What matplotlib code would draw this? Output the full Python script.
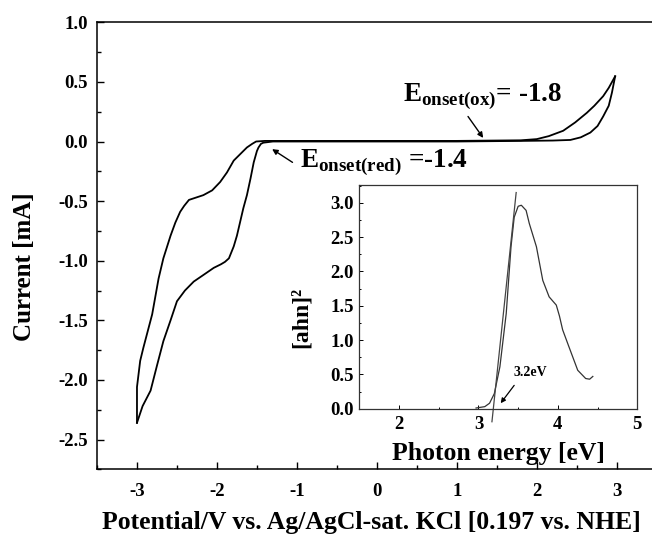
import matplotlib
matplotlib.use("Agg")
import matplotlib.pyplot as plt
from matplotlib.ticker import MultipleLocator, FormatStrFormatter

plt.rcParams['font.family'] = ['Liberation Serif', 'DejaVu Serif']
plt.rcParams['font.weight'] = 'bold'
plt.rcParams['axes.unicode_minus'] = False
plt.rcParams['mathtext.fontset'] = 'custom'
plt.rcParams['mathtext.bf'] = 'Liberation Serif:bold'
plt.rcParams['mathtext.rm'] = 'Liberation Serif:bold'

# ---- CV data (potential in V, current in mA) ----
cv_cath_x = [-3.0, -2.93, -2.83, -2.75, -2.67, -2.58, -2.5, -2.4, -2.29, -2.17, -2.04,
             -1.95, -1.90, -1.85, -1.79, -1.75, -1.71, -1.67, -1.625, -1.58, -1.54,
             -1.50, -1.48, -1.45, -1.42, -1.3, -1.0, 0.0, 1.0, 1.8, 2.2, 2.42, 2.55,
             2.67, 2.76, 2.83, 2.90, 2.94, 2.98]
cv_cath_y = [-2.36, -2.22, -2.09, -1.88, -1.675, -1.50, -1.34, -1.25, -1.175, -1.12, -1.06,
             -1.03, -1.01, -0.98, -0.88, -0.79, -0.675, -0.56, -0.45, -0.31, -0.175,
             -0.08, -0.05, -0.02, -0.01, 0.0, 0.0, 0.0, 0.0, 0.005, 0.008, 0.013, 0.035,
             0.075, 0.13, 0.21, 0.30, 0.41, 0.547]
cv_anod_x = [2.98, 2.90, 2.83, 2.72, 2.625, 2.48, 2.33, 2.15, 2.0, 1.8, 1.0, 0.0, -1.0,
             -1.4, -1.51, -1.56, -1.625, -1.70, -1.79, -1.875, -1.96, -2.06, -2.17, -2.26,
             -2.35, -2.41, -2.46, -2.52, -2.58, -2.67, -2.73, -2.81, -2.92, -2.96, -3.0, -3.0]
cv_anod_y = [0.547, 0.45, 0.38, 0.30, 0.24, 0.16, 0.09, 0.045, 0.02, 0.01, 0.005, 0.005, 0.005,
             0.005, 0.0, -0.02, -0.05, -0.10, -0.16, -0.26, -0.34, -0.41, -0.45, -0.47,
             -0.49, -0.54, -0.59, -0.68, -0.79, -0.98, -1.15, -1.45, -1.73, -1.84, -2.06, -2.36]

x_ticks = [-3, -2, -1, 0, 1, 2, 3]
y_ticks = [-2.5, -2.0, -1.5, -1.0, -0.5, 0.0, 0.5, 1.0]

# ---- Inset (Tauc plot) data ----
energy = [2.97, 3.08, 3.14, 3.20, 3.27, 3.35, 3.41, 3.45, 3.50, 3.54, 3.60, 3.64, 3.73,
          3.81, 3.89, 3.95, 3.98, 4.02, 4.06, 4.14, 4.25, 4.35, 4.40, 4.44]
ahn2 = [0.01, 0.03, 0.08, 0.22, 0.61, 1.39, 2.36, 2.79, 2.95, 2.965, 2.89, 2.70, 2.36,
        1.87, 1.63, 1.55, 1.51, 1.35, 1.15, 0.90, 0.56, 0.44, 0.43, 0.47]
tangent_x = [3.17, 3.475]
tangent_y = [-0.19, 3.15]
inset_x_ticks = [2, 3, 4, 5]
inset_y_ticks = [0.0, 0.5, 1.0, 1.5, 2.0, 2.5, 3.0]

fig = plt.figure(figsize=(6.52, 5.34), dpi=100)
ax = fig.add_axes([97/652, 1 - 469.3/534, (652 - 97)/652, (469.3 - 22.3)/534])
ax.plot(cv_cath_x, cv_cath_y, color='black', lw=1.3)
ax.plot(cv_anod_x, cv_anod_y, color='black', lw=1.3)
ax.set_xlim(-3.5, 3.441)
ax.set_ylim(-2.75, 1.0)
ax.set_xticks(x_ticks)
ax.set_yticks(y_ticks)
ax.xaxis.set_minor_locator(MultipleLocator(0.5))
ax.yaxis.set_minor_locator(MultipleLocator(0.25))
ax.yaxis.set_major_formatter(FormatStrFormatter('%.1f'))
ax.spines['right'].set_visible(False)
for s in ['left', 'bottom', 'top']:
    ax.spines[s].set_linewidth(1.1)
ax.tick_params(which='both', direction='in', top=False, right=False, width=1.0)
ax.tick_params(which='major', length=5, labelsize=13.5)
ax.tick_params(axis='x', which='major', pad=10)
ax.tick_params(axis='y', which='major', pad=6.5)
ax.tick_params(which='minor', length=3)
ax.set_xlabel('Potential/V vs. Ag/AgCl-sat. KCl [0.197 vs. NHE]', fontsize=18.5, fontweight='bold')
ax.xaxis.set_label_coords(0.4946, -0.093)
ax.set_ylabel('Current [mA]', fontsize=18, fontweight='bold')
ax.yaxis.set_label_coords(-0.1315, 0.4526)
ax.yaxis.label.set_verticalalignment('center')

ax.text(0.325, 0.338, r'$\mathbf{E}_{\mathbf{onset(ox)}}$= -1.8', fontsize=19.5, fontweight='bold', va='baseline', ha='left')
ax.text(-0.967, -0.217, r'$\mathbf{E}_{\mathbf{onset(red)}}$ =-1.4', fontsize=19.5, fontweight='bold', va='baseline', ha='left')
ax.annotate('', xy=(1.33, 0.03), xytext=(1.14, 0.21),
            arrowprops=dict(arrowstyle='-|>', color='black', lw=1.0, mutation_scale=8, shrinkA=0, shrinkB=0))
ax.annotate('', xy=(-1.31, -0.064), xytext=(-1.055, -0.175),
            arrowprops=dict(arrowstyle='-|>', color='black', lw=1.0, mutation_scale=8, shrinkA=0, shrinkB=0))

# ---- inset ----
ins = fig.add_axes([359.3/652, 1 - 408.7/534, (637.3 - 359.3)/652, (408.7 - 185)/534])
ins.plot(energy, ahn2, color='#333333', lw=0.9)
ins.plot(tangent_x, tangent_y, color='#444444', lw=0.9, clip_on=False)
ins.set_xlim(1.5, 5.0)
ins.set_ylim(0, 3.26)
ins.set_xticks(inset_x_ticks)
ins.set_yticks(inset_y_ticks)
ins.xaxis.set_minor_locator(MultipleLocator(0.5))
ins.yaxis.set_minor_locator(MultipleLocator(0.25))
ins.yaxis.set_major_formatter(FormatStrFormatter('%.1f'))
for s in ins.spines.values():
    s.set_linewidth(0.9)
    s.set_color('#333333')
ins.tick_params(which='both', direction='in', width=0.7)
ins.tick_params(which='major', length=3, labelsize=13.5)
ins.tick_params(axis='x', which='major', pad=5)
ins.tick_params(axis='y', which='major', pad=4)
ins.tick_params(which='minor', length=1.5)
ins.set_xlabel('Photon energy [eV]', fontsize=18.5, fontweight='bold')
ins.xaxis.set_label_coords(0.5, -0.15)
ins.set_ylabel('[ahn]²', fontsize=17, fontweight='bold')
ins.yaxis.set_label_coords(-0.21, 0.41)
ins.yaxis.label.set_verticalalignment('center')
ins.text(3.654, 0.534, '3.2eV', fontsize=10, fontweight='bold', ha='center', va='center')
ins.annotate('', xy=(3.28, 0.08), xytext=(3.45, 0.34),
             arrowprops=dict(arrowstyle='-|>', color='black', lw=0.9, mutation_scale=7, shrinkA=0, shrinkB=0))

fig.savefig('out.png', dpi=100)
